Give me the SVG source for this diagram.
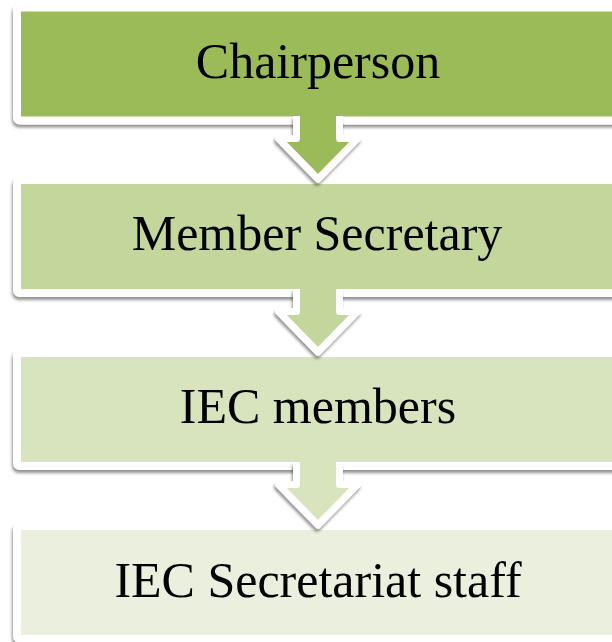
<svg xmlns="http://www.w3.org/2000/svg" width="612" height="642" viewBox="0 0 612 642">
  <defs>
    <filter id="shadow" x="-10%" y="-20%" width="120%" height="150%">
      <feDropShadow dx="-1" dy="3" stdDeviation="1.8" flood-color="#000" flood-opacity="0.42"/>
    </filter>
    <style>
      .box { stroke: #fff; stroke-width: 8; filter: url(#shadow); }
      .arrow { stroke: #fff; stroke-width: 7; stroke-linejoin: round; filter: url(#shadow); }
      .label { font-family: "Liberation Serif", "Times New Roman", serif; font-size: 50px; fill: #000; text-anchor: middle; }
      .l1 { fill: #9BBB59; }
      .l2 { fill: #C3D69B; }
      .l3 { fill: #D7E4BD; }
      .l4 { fill: #EBF0DE; }
    </style>
  </defs>
  <rect width="612" height="642" fill="#fff"/>

  <g id="chairperson">
    <rect class="box l1" x="17" y="7.5" width="640" height="113" rx="3"/>
    <text class="label" x="318" y="78">Chairperson</text>
  </g>
  <g id="member-secretary">
    <rect class="box l2" x="17" y="180" width="640" height="113" rx="3"/>
    <text class="label" x="317" y="250">Member Secretary</text>
  </g>
  <g id="iec-members">
    <rect class="box l3" x="17" y="353" width="640" height="113" rx="3"/>
    <text class="label" x="318" y="423">IEC members</text>
  </g>
  <g id="iec-secretariat-staff">
    <rect class="box l4" x="17" y="526" width="640" height="113" rx="3"/>
    <text class="label" x="318" y="597">IEC Secretariat staff</text>
  </g>

  <!-- down arrows: open paths so the shaft top is filled but not stroked -->
  <g id="connectors">
    <path class="arrow l1" d="M296.5,116 V138.5 H278.5 L318,179 L357.5,138.5 H339.5 V116"/>
    <path class="arrow l2" d="M296.5,289 V311.5 H278.5 L318,352 L357.5,311.5 H339.5 V289"/>
    <path class="arrow l3" d="M296.5,462 V484.5 H278.5 L318,525 L357.5,484.5 H339.5 V462"/>
  </g>
</svg>
